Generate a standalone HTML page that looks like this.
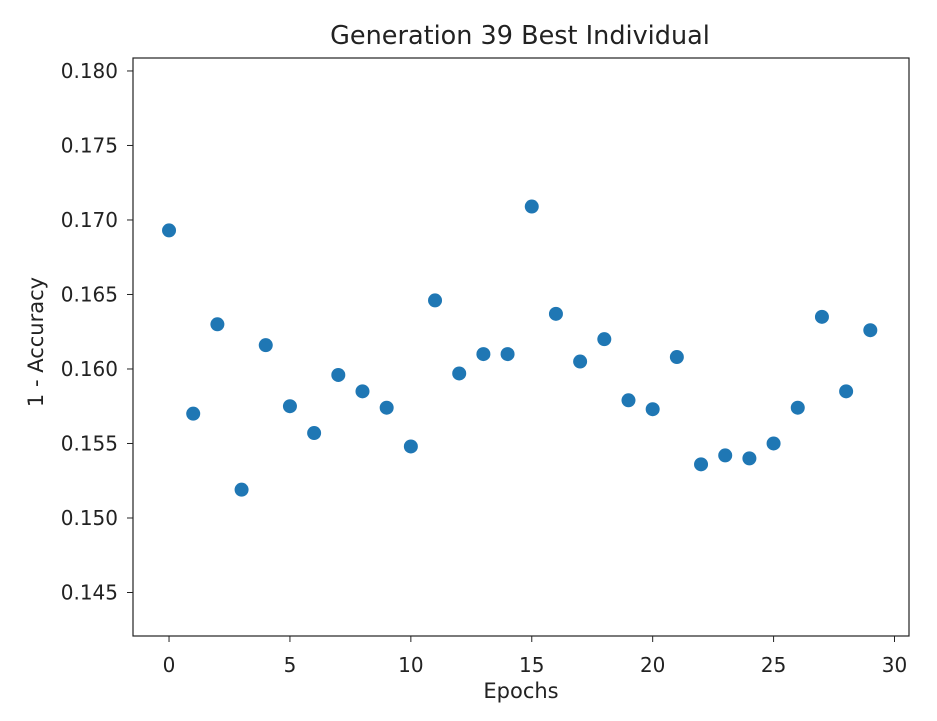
<!DOCTYPE html>
<html><head><meta charset="utf-8"><style>
body{margin:0;background:#fff;}
svg text{font-family:"DejaVu Sans","Liberation Sans",sans-serif;fill:#222;}
</style></head><body>
<svg id="chart" width="937" height="716">
<text x="520" y="44" font-size="25.5" text-anchor="middle">Generation 39 Best Individual</text>
<rect x="133" y="58" width="776" height="578" fill="none" stroke="#222" stroke-width="1.2"/>
<g id="xt"></g><g id="yt"></g><g id="pts"></g>
<text x="521" y="698" font-size="21" text-anchor="middle">Epochs</text>
<text transform="translate(43,342) rotate(-90)" font-size="21" text-anchor="middle">1 - Accuracy</text>
</svg>
<script>
const epochs=[0,1,2,3,4,5,6,7,8,9,10,11,12,13,14,15,16,17,18,19,20,21,22,23,24,25,26,27,28,29];
const errors=[0.1693,0.1570,0.1630,0.1519,0.1616,0.1575,0.1557,0.1596,0.1585,0.1574,0.1548,0.1646,0.1597,0.1610,0.1610,0.1709,0.1637,0.1605,0.1620,0.1579,0.1573,0.1608,0.1536,0.1542,0.1540,0.1550,0.1574,0.1635,0.1585,0.1626];
const xTicks=[0,5,10,15,20,25,30];
const yTicks=[0.145,0.150,0.155,0.160,0.165,0.170,0.175,0.180];
const NS="http://www.w3.org/2000/svg";
const L=133,R=909,T=58,B=636,x0=-1.49,x1=30.6,y0=0.14208,y1=0.18087;
const sx=v=>L+(v-x0)/(x1-x0)*(R-L);
const sy=v=>B-(v-y0)/(y1-y0)*(B-T);
function mk(tag,a,p){const e=document.createElementNS(NS,tag);for(const k in a)e.setAttribute(k,a[k]);p.appendChild(e);return e;}
const xt=document.getElementById('xt'),yt=document.getElementById('yt'),pts=document.getElementById('pts');
xTicks.forEach(v=>{const x=sx(v);
const l=mk('line',{x1:x,x2:x,y1:B,y2:B+6,stroke:'#222'},xt);


const t=mk('text',{x:x,y:B+36,'font-size':20,'text-anchor':'middle'},xt);t.textContent=v;

});
yTicks.forEach(v=>{const y=sy(v);
const l=mk('line',{x1:L-6,x2:L,y1:y,y2:y,stroke:'#222'},yt);


const t=mk('text',{x:L-15,y:y+7,'font-size':20,'text-anchor':'end'},yt);t.textContent=v.toFixed(3);

});
epochs.forEach((e,i)=>{const c=mk('circle',{cx:sx(e),cy:sy(errors[i]),r:7,fill:'#1f77b4'},pts);

});
</script>
</body></html>
